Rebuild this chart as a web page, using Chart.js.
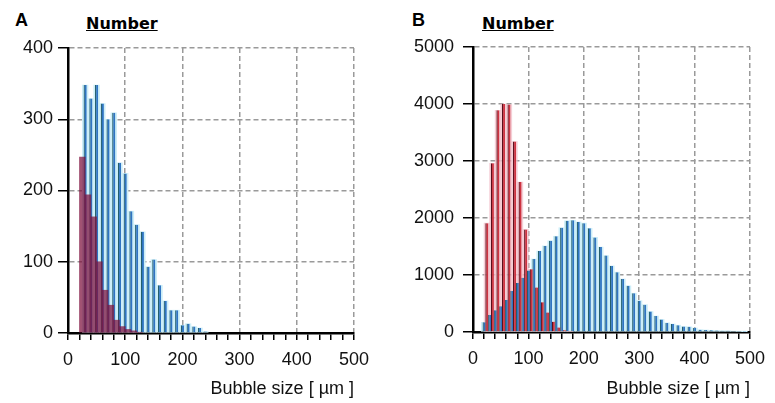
<!DOCTYPE html>
<html>
<head>
<meta charset="utf-8">
<script src="https://cdn.jsdelivr.net/npm/chart.js@4.4.0/dist/chart.umd.min.js"></script>
<style>
  body { margin: 0; background: #fff; width: 775px; height: 403px; position: relative; overflow: hidden; }
  canvas { position: absolute; top: 0; }
  #chartA { left: 0; }
  #chartB { left: 387px; }
  .panel { position: absolute; font-family: "Liberation Sans", Arial, sans-serif; font-weight: bold; font-size: 18px; line-height: 1; color: #000; }
  .title { position: absolute; font-family: "DejaVu Sans", sans-serif; font-weight: bold; font-size: 16px; line-height: 1; text-decoration: underline; color: #000; }
</style>
</head>
<body>
<div class="panel" style="left:15px;top:11px">A</div>
<div class="title" style="left:86px;top:16px">Number</div>
<div class="panel" style="left:412px;top:11px">B</div>
<div class="title" style="left:482px;top:16px">Number</div>
<canvas id="chartA" width="387" height="403"></canvas>
<canvas id="chartB" width="388" height="403"></canvas>
<script>
// ---- panel A data (bubble size in µm, number of bubbles) ----
const sizesBlueA = [30, 40, 50, 60, 70, 80, 90, 100, 110, 120, 130, 140, 150, 160, 170, 180, 190, 200, 210, 220, 230, 240];
const countsBlueA = [348, 329, 348, 322, 300, 309, 239, 224, 171, 152, 142, 93, 103, 67, 45, 32, 32, 11, 13, 9, 7, 2];
const sizesRedA = [25, 35, 45, 55, 65, 75, 85, 95, 105, 115, 125];
const countsRedA = [247, 194, 163, 100, 60, 39, 18, 9, 5, 3, 1];

// ---- panel B data ----
const sizesBlueB = [20, 30, 40, 50, 60, 70, 80, 90, 100, 110, 120, 130, 140, 150, 160, 170, 180, 190, 200,
  210, 220, 230, 240, 250, 260, 270, 280, 290, 300, 310, 320, 330, 340, 350, 360, 370, 380, 390, 400,
  410, 420, 430, 440, 450, 460, 470, 480, 490];
const countsBlueB = [170, 300, 380, 450, 560, 720, 860, 950, 1080, 1280, 1420, 1510, 1600, 1680, 1830, 1950, 1960, 1930, 1910,
  1820, 1660, 1490, 1340, 1160, 1050, 930, 810, 680, 550, 480, 360, 280, 220, 160, 140, 120, 95, 90, 70,
  40, 35, 30, 25, 20, 20, 15, 10, 5];
const sizesRedB = [25, 35, 45, 55, 65, 75, 85, 95, 105, 115, 125, 135, 145, 155, 165, 175];
const countsRedB = [1910, 2960, 3890, 4000, 3990, 3340, 2630, 1800, 1100, 780, 520, 340, 180, 80, 30, 10];

const xTicks = [0, 100, 200, 300, 400, 500];
const yTicksA = [0, 100, 200, 300, 400];
const yTicksB = [0, 1000, 2000, 3000, 4000, 5000];

const COLORS = {
  cyan: '#cdeef8',
  blue: '#2f74c2',
  teal: '#245f6c',
  pink: 'rgba(242,190,200,0.75)',
  redA: 'rgba(125,15,60,0.72)',
  redB: 'rgba(200,30,44,0.88)',
  maroon: '#5a0f1c',
  grid: '#9a9a9a'
};

const FONT = { family: '"Liberation Sans", Arial, sans-serif', size: 18 };

function pts(xs, ys) { return xs.map((x, i) => ({ x, y: ys[i] })); }

function makeChart(id, cfg) {
  const yMax = cfg.yTicks[cfg.yTicks.length - 1];
  const datasets = [
    { data: pts(cfg.sizesBlue, cfg.countsBlue), xAxisID: 'x', backgroundColor: COLORS.cyan, borderWidth: 0,
      barPercentage: 1, categoryPercentage: 1, order: 6 },
    { data: pts(cfg.sizesBlue, cfg.countsBlue), xAxisID: 'x', backgroundColor: COLORS.blue, borderColor: COLORS.teal,
      borderWidth: { left: 1.2, right: 0, top: 0, bottom: 0 }, borderSkipped: false, barPercentage: 0.55, categoryPercentage: 1, order: 4 }
  ];
  if (cfg.wideRed) {
    datasets.push({ data: pts(cfg.sizesRed, cfg.countsRed), xAxisID: 'xr', backgroundColor: COLORS.redA, borderWidth: 0,
      barPercentage: 1, categoryPercentage: 1, order: 2 });
  } else {
    datasets.push({ data: pts(cfg.sizesRed, cfg.countsRed), xAxisID: 'xr', backgroundColor: COLORS.pink, borderWidth: 0,
      barPercentage: 1, categoryPercentage: 1, order: 5 });
    datasets.push({ data: pts(cfg.sizesRed, cfg.countsRed), xAxisID: 'xr', backgroundColor: COLORS.redB, borderColor: COLORS.maroon,
      borderWidth: { left: 1.2, right: 0, top: 0, bottom: 0 }, borderSkipped: false, barPercentage: 0.55, categoryPercentage: 1, order: 2 });
  }

  return new Chart(document.getElementById(id), {
    type: 'bar',
    data: { datasets },
    options: {
      responsive: false,
      animation: false,
      devicePixelRatio: 1,
      grouped: false,
      layout: { padding: { top: cfg.top, right: cfg.right, bottom: 0, left: 0 } },
      plugins: { legend: { display: false }, tooltip: { enabled: false } },
      scales: {
        x: {
          type: 'linear', min: 0, max: 500, offset: false,
          afterFit: s => { s.height = cfg.xHeight; },
          afterBuildTicks: s => {
            const t = [];
            for (let v = 0; v <= 500; v += 20) t.push({ value: v });
            s.ticks = t;
          },
          ticks: {
            autoSkip: false, maxRotation: 0, padding: 9, color: '#111', font: FONT,
            callback: v => (xTicks.includes(v) ? String(v) : '')
          },
          grid: {
            offset: false, drawTicks: true, tickLength: 7, tickWidth: 1.5, tickColor: '#000', tickBorderDash: [],
            lineWidth: 1.5,
            color: c => (c.tick && c.tick.value > 0 && xTicks.includes(c.tick.value) ? COLORS.grid : 'rgba(0,0,0,0)')
          },
          border: { display: true, color: '#000', width: 2.5, dash: [5, 3] },
          title: { display: true, text: 'Bubble size [ µm ]', align: 'end', color: '#111', font: FONT, padding: { top: 0, bottom: 3 } }
        },
        xr: { type: 'linear', min: 0, max: 500, offset: false, display: false, grid: { offset: false } },
        y: {
          min: 0, max: yMax, beginAtZero: true,
          afterFit: s => { s.width = cfg.yWidth; },
          afterBuildTicks: s => { s.ticks = cfg.yTicks.map(v => ({ value: v })); },
          ticks: { padding: cfg.yPad, color: '#111', font: FONT, callback: v => String(v) },
          grid: {
            drawTicks: true, tickLength: 10, tickWidth: 1.5, tickColor: '#000', tickBorderDash: [],
            lineWidth: 1.5,
            color: c => (c.tick && c.tick.value > 0 ? COLORS.grid : 'rgba(0,0,0,0)')
          },
          border: { display: true, color: '#000', width: 2.5, dash: [5, 3] }
        }
      }
    }
  });
}

makeChart('chartA', {
  sizesBlue: sizesBlueA, countsBlue: countsBlueA, sizesRed: sizesRedA, countsRed: countsRedA,
  yTicks: yTicksA, wideRed: true, top: 48, right: 33, yWidth: 68, xHeight: 70, yPad: 5
});
makeChart('chartB', {
  sizesBlue: sizesBlueB, countsBlue: countsBlueB, sizesRed: sizesRedB, countsRed: countsRedB,
  yTicks: yTicksB, wideRed: false, top: 47, right: 25, yWidth: 86, xHeight: 71, yPad: 9
});
</script>
</body>
</html>
